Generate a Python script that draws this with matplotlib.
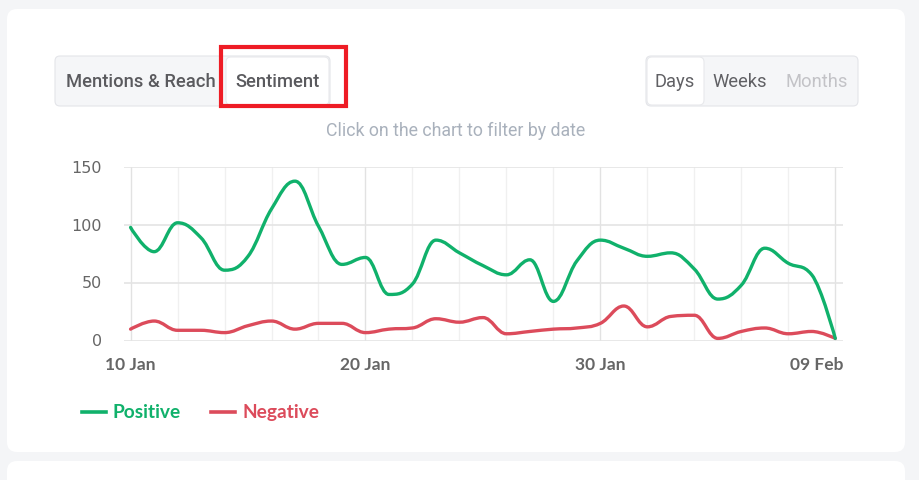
import numpy as np
import matplotlib
matplotlib.use("Agg")
from matplotlib import pyplot as plt
from matplotlib.patches import FancyBboxPatch, Rectangle, PathPatch
from matplotlib.path import Path

# daily sentiment counts, 10 Jan .. 09 Feb
days = list(range(31))
positive = [98, 77, 102, 89, 61, 73, 114, 138, 99, 66, 72, 40, 49, 87, 76,
            65, 57, 70, 34, 69, 87, 80, 73, 76, 62, 36, 48, 80, 67, 57, 2]
negative = [10, 17, 9, 9, 7, 13, 17, 10, 15, 15, 7, 10, 11, 19, 16,
            20, 6, 8, 10, 11, 15, 30, 12, 21, 22, 2, 8, 11, 6, 8, 2]
tick_days = [0, 10, 20, 30]
tick_labels = ["10 Jan", "20 Jan", "30 Jan", "09 Feb"]
y_ticks = [0, 50, 100, 150]

GREEN = "#10b16b"
RED = "#dc4b5b"

W, H = 919, 481
fig = plt.figure(figsize=(W / 100, H / 100), dpi=100)
fig.patch.set_facecolor("#f4f5f7")

# page overlay in pixel coords
bg = fig.add_axes([0, 0, 1, 1])
bg.set_xlim(0, W)
bg.set_ylim(H, 0)
bg.axis("off")

def box(x0, y0, x1, y1, fc, ec="none", r=4, lw=0.8, z=1):
    bg.add_patch(FancyBboxPatch((x0, y0), x1 - x0, y1 - y0,
                                boxstyle="round,pad=0,rounding_size=%d" % r,
                                fc=fc, ec=ec, lw=lw, zorder=z))

box(7, 10, 905, 453, "white", r=10)
box(7, 462, 905, 500, "white", r=10)

# tab buttons
box(55, 57, 330, 107, "#f5f6f8", ec="#e4e5e9", r=5)
box(226, 58, 329, 106, "white", ec="#e8e9ec", r=5, z=2)
bg.text(141, 82, "Mentions & Reach", ha="center", va="center", fontsize=13.2,
        family="Roboto", weight="medium", color="#5a5a5e", zorder=3)
bg.text(278, 82, "Sentiment", ha="center", va="center", fontsize=13.2,
        family="Roboto", weight="medium", color="#5a5a5e", zorder=3)
bg.add_patch(Rectangle((221, 48), 125, 59, fill=False, ec="#ee1c25", lw=3, zorder=4))

box(646, 57, 858, 107, "#f5f6f8", ec="#e4e5e9", r=5)
box(647, 58, 704, 106, "white", ec="#e8e9ec", r=5, z=2)
bg.text(675, 82, "Days", ha="center", va="center", fontsize=13.2,
        family="Roboto", color="#606064", zorder=3)
bg.text(740, 82, "Weeks", ha="center", va="center", fontsize=13.2,
        family="Roboto", color="#606064", zorder=3)
bg.text(817, 82, "Months", ha="center", va="center", fontsize=13.2,
        family="Roboto", color="#c3c3c7", zorder=3)

bg.text(456, 131, "Click on the chart to filter by date", ha="center", va="center",
        fontsize=12.8, family="Roboto", color="#a9b1bc")

# chart axes
px0, px1, py0, py1 = 124, 843, 168.3, 341.7
ax = fig.add_axes([px0 / W, 1 - py1 / H, (px1 - px0) / W, (py1 - py0) / H])
ax.set_facecolor("none")
ax.set_xlim(-0.28, 30.33)
ax.set_ylim(0, 150)
for s in ax.spines.values():
    s.set_visible(False)

for d in range(0, 31, 2):
    c = "#e2e2e2" if d % 10 == 0 else "#f0f0f0"
    ax.axvline(d, color=c, lw=1, zorder=0)
for v in y_ticks:
    ax.axhline(v, color="#e4e4e4", lw=1.2, zorder=0)

ax.set_xticks([])
ax.set_yticks([])
for v in y_ticks:
    ax.text(-0.28 - 0.95, v, str(v), ha="right", va="center", fontsize=11.5,
            family="DejaVu Sans", color="#666666")
for d, lab in zip(tick_days, tick_labels):
    ha = "right" if d == tick_days[-1] else "center"
    xx = 30.33 if d == tick_days[-1] else d
    ax.text(xx, -20.5, lab, ha=ha, va="center", fontsize=12.5, weight="bold",
            family="Lato", color="#666666", clip_on=False)


def spline_path(xs, ys, smoothing=1.5):
    n = len(xs)
    lc = [(xs[i], ys[i]) for i in range(n)]
    rc = [(xs[i], ys[i]) for i in range(n)]
    den = smoothing + 1
    for i in range(1, n - 1):
        x, y = xs[i], ys[i]
        lx, ly = xs[i - 1], ys[i - 1]
        nx, ny = xs[i + 1], ys[i + 1]
        lcx = (smoothing * x + lx) / den
        lcy = (smoothing * y + ly) / den
        rcx = (smoothing * x + nx) / den
        rcy = (smoothing * y + ny) / den
        if rcx != lcx:
            corr = (rcy - lcy) * (rcx - x) / (rcx - lcx) + y - rcy
            lcy += corr
            rcy += corr
        if lcy > ly and lcy > y:
            lcy = max(ly, y); rcy = 2 * y - lcy
        elif lcy < ly and lcy < y:
            lcy = min(ly, y); rcy = 2 * y - lcy
        if rcy > ny and rcy > y:
            rcy = max(ny, y); lcy = 2 * y - rcy
        elif rcy < ny and rcy < y:
            rcy = min(ny, y); lcy = 2 * y - rcy
        lc[i] = (lcx, lcy)
        rc[i] = (rcx, rcy)
    verts = [(xs[0], ys[0])]
    codes = [Path.MOVETO]
    for i in range(1, n):
        verts += [rc[i - 1], lc[i], (xs[i], ys[i])]
        codes += [Path.CURVE4] * 3
    return Path(verts, codes)


for vals, col in [(negative, RED), (positive, GREEN)]:
    ax.add_patch(PathPatch(spline_path(days, vals), fill=False, ec=col, lw=2.4,
                           clip_on=False, zorder=3, capstyle="round", joinstyle="round"))

# legend
bg.plot([82, 106], [413, 413], color=GREEN, lw=2.6)
bg.text(113, 413, "Positive", ha="left", va="center", fontsize=13.8, weight="bold",
        family="Lato", color=GREEN)
bg.plot([211, 235], [413, 413], color=RED, lw=2.6)
bg.text(243, 413, "Negative", ha="left", va="center", fontsize=13.8, weight="bold",
        family="Lato", color=RED)

fig.savefig("out.png", dpi=100, facecolor=fig.get_facecolor())
